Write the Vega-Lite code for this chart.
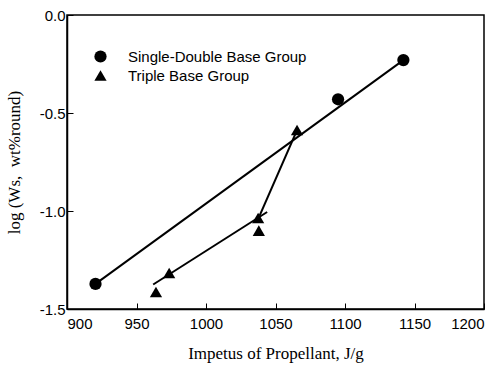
{
  "$schema": "https://vega.github.io/schema/vega-lite/v6.json",
  "width": 417,
  "height": 294,
  "autosize": {"type": "none"},
  "padding": {"left": 67, "top": 15, "right": 2, "bottom": 63},
  "background": "white",
  "config": {
    "view": {"stroke": "black", "strokeWidth": 1.5},
    "axis": {
      "domainColor": "black", "domainWidth": 1.5, "tickColor": "black", "tickWidth": 1,
      "grid": false, "labelFont": "Liberation Sans", "labelFontSize": 15, "labelColor": "black",
      "titleFont": "Liberation Serif", "titleFontSize": 17, "titleFontWeight": "normal", "titleColor": "black"
    },
    "legend": {"labelFont": "Liberation Sans", "labelFontSize": 15, "labelColor": "black", "labelLimit": 400}
  },
  "datasets": {
    "pts": [
      {"x": 920.5, "y": -1.372, "group": "Single-Double Base Group"},
      {"x": 1095, "y": -0.43, "group": "Single-Double Base Group"},
      {"x": 1142, "y": -0.23, "group": "Single-Double Base Group"},
      {"x": 964, "y": -1.413, "group": "Triple Base Group"},
      {"x": 973.5, "y": -1.316, "group": "Triple Base Group"},
      {"x": 1037.5, "y": -1.036, "group": "Triple Base Group"},
      {"x": 1038, "y": -1.10, "group": "Triple Base Group"},
      {"x": 1065.5, "y": -0.587, "group": "Triple Base Group"}
    ],
    "lines": [
      {"seg": "a", "x": 920.5, "y": -1.372},
      {"seg": "a", "x": 1142, "y": -0.23},
      {"seg": "b", "x": 962, "y": -1.375},
      {"seg": "b", "x": 1044, "y": -1.005},
      {"seg": "c", "x": 1038.5, "y": -1.025},
      {"seg": "c", "x": 1065.5, "y": -0.587}
    ]
  },
  "layer": [
    {
      "data": {"name": "lines"},
      "mark": {"type": "line", "color": "black", "strokeWidth": 2},
      "encoding": {
        "x": {"field": "x", "type": "quantitative"},
        "y": {"field": "y", "type": "quantitative"},
        "detail": {"field": "seg"}
      }
    },
    {
      "data": {"name": "pts"},
      "mark": {"type": "point", "filled": true, "opacity": 1, "size": 150},
      "encoding": {
        "x": {
          "field": "x", "type": "quantitative",
          "scale": {"domain": [900, 1200], "nice": false, "zero": false},
          "axis": {"title": "Impetus of Propellant, J/g", "values": [900, 950, 1000, 1050, 1100, 1150, 1200], "format": "d", "tickSize": -6, "labelPadding": 13, "titlePadding": 14}
        },
        "y": {
          "field": "y", "type": "quantitative",
          "scale": {"domain": [-1.5, 0], "nice": false, "zero": false},
          "axis": {"title": "log (Ws,\u00a0 wt%round)", "values": [0, -0.5, -1, -1.5], "labelExpr": "replace(format(datum.value, '.1f'), '\u2212', '-')", "tickSize": -6, "labelPadding": 8, "titlePadding": 16}
        },
        "shape": {
          "field": "group", "type": "nominal",
          "scale": {"domain": ["Single-Double Base Group", "Triple Base Group"], "range": ["circle", "triangle-up"]},
          "legend": {"title": null, "orient": "none", "legendX": 26, "legendY": 34, "symbolFillColor": "black", "symbolStrokeColor": "black", "symbolSize": 150, "symbolOpacity": 1, "labelOffset": 20, "rowPadding": 1}
        },
        "color": {"value": "black"}
      }
    }
  ]
}
